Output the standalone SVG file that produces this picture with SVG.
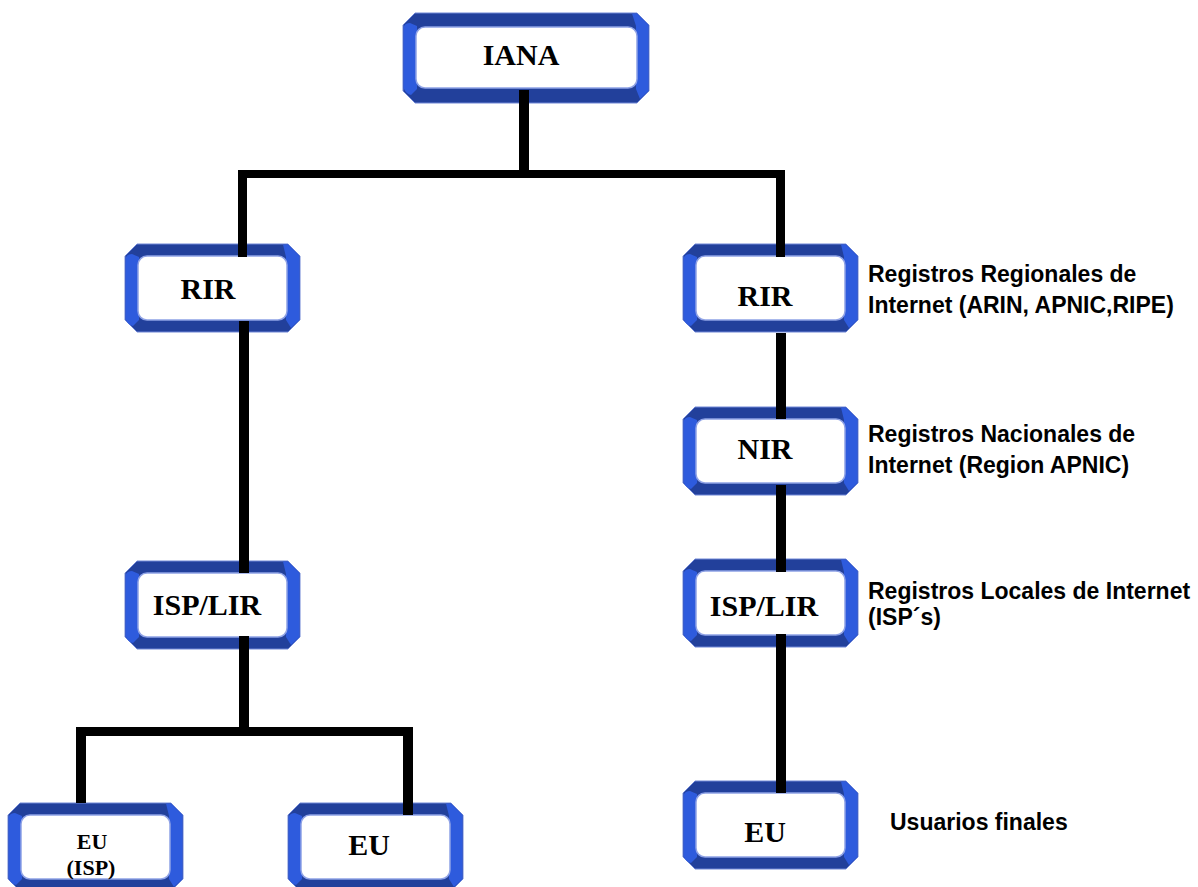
<svg xmlns="http://www.w3.org/2000/svg" xmlns:xlink="http://www.w3.org/1999/xlink" width="1198" height="887" viewBox="0 0 1198 887">
<style>
.dark{fill:#22409B;stroke:#6F86D6;stroke-width:1}
.side{fill:#2E5BDD}
.inner{fill:#FFFFFF;stroke:#8FA2E6;stroke-width:1.5}
.lbl{font-family:"Liberation Serif","Times New Roman",serif;font-weight:bold;font-size:30px;fill:#000;text-anchor:middle}
.note{font-family:"Liberation Sans",Arial,sans-serif;font-weight:bold;font-size:23px;fill:#000}
.wire{fill:#000}
</style>
<defs>
<g id="box">
<path class="dark" d="M12,0 H163 L175,12 V76 L163,88 H12 L0,76 V12 Z"/>
<path class="side" d="M0.5,14 Q2,10 7,10 L14,13 V76 L8,82 Q3,81 0.5,75 Z"/>
<path class="side" d="M158,0.5 H163 L174.5,12 V76 L166,84 L161,76 V13 Z"/>
<rect class="inner" x="13" y="12" width="149" height="64" rx="9"/>
</g>
</defs>

<g id="node-iana">
<path class="dark" d="M415,13 H637 L649,25 V91 L637,103 H415 L403,91 V25 Z"/>
<path class="side" d="M403.5,27 Q405,23 410,23 L417,26 V89 L411,95 Q406,94 403.5,88 Z"/>
<path class="side" d="M632,13.5 H637 L648.5,25 V91 L640,99 L636,89 V26 Z"/>
<rect class="inner" x="416" y="27" width="221" height="61" rx="9"/>
<text class="lbl" x="521" y="65">IANA</text>
</g>

<g id="node-rir-left">
<use xlink:href="#box" x="125" y="244"/>
<text class="lbl" x="208" y="299">RIR</text>
</g>

<g id="node-rir-right">
<use xlink:href="#box" x="683" y="244"/>
<text class="lbl" x="765" y="306">RIR</text>
</g>

<g id="node-nir">
<use xlink:href="#box" x="683" y="407"/>
<text class="lbl" x="765" y="459">NIR</text>
</g>

<g id="node-isp-left">
<use xlink:href="#box" x="125" y="561"/>
<text class="lbl" x="207" y="615">ISP/LIR</text>
</g>

<g id="node-isp-right">
<use xlink:href="#box" x="683" y="559"/>
<text class="lbl" x="764" y="616">ISP/LIR</text>
</g>

<g id="node-eu-isp">
<use xlink:href="#box" x="8" y="803"/>
<text class="lbl" x="92" y="849" style="font-size:22px">EU</text>
<text class="lbl" x="91" y="875" style="font-size:22px">(ISP)</text>
</g>

<g id="node-eu-mid">
<use xlink:href="#box" x="288" y="803"/>
<text class="lbl" x="369" y="855">EU</text>
</g>

<g id="node-eu-right">
<use xlink:href="#box" x="683" y="781"/>
<text class="lbl" x="765" y="842">EU</text>
</g>

<g id="connectors">
<rect class="wire" x="519" y="90" width="10" height="88"/>
<rect class="wire" x="238" y="170" width="547" height="8"/>
<rect class="wire" x="238" y="170" width="9" height="87"/>
<rect class="wire" x="776" y="170" width="9" height="87"/>
<rect class="wire" x="239" y="321" width="10" height="252"/>
<rect class="wire" x="239" y="636" width="10" height="100"/>
<rect class="wire" x="76" y="727" width="337" height="9"/>
<rect class="wire" x="76" y="727" width="10" height="76"/>
<rect class="wire" x="403" y="727" width="10" height="88"/>
<rect class="wire" x="776" y="333" width="10" height="86"/>
<rect class="wire" x="776" y="485" width="10" height="87"/>
<rect class="wire" x="776" y="634" width="10" height="159"/>
</g>

<g id="notes">
<text class="note" x="868" y="282">Registros Regionales de</text>
<text class="note" x="868" y="313">Internet (ARIN, APNIC,RIPE)</text>
<text class="note" x="868" y="442">Registros Nacionales de</text>
<text class="note" x="868" y="473">Internet (Region APNIC)</text>
<text class="note" x="868" y="599">Registros Locales de Internet</text>
<text class="note" x="868" y="625">(ISP´s)</text>
<text class="note" x="890" y="830">Usuarios finales</text>
</g>
</svg>
